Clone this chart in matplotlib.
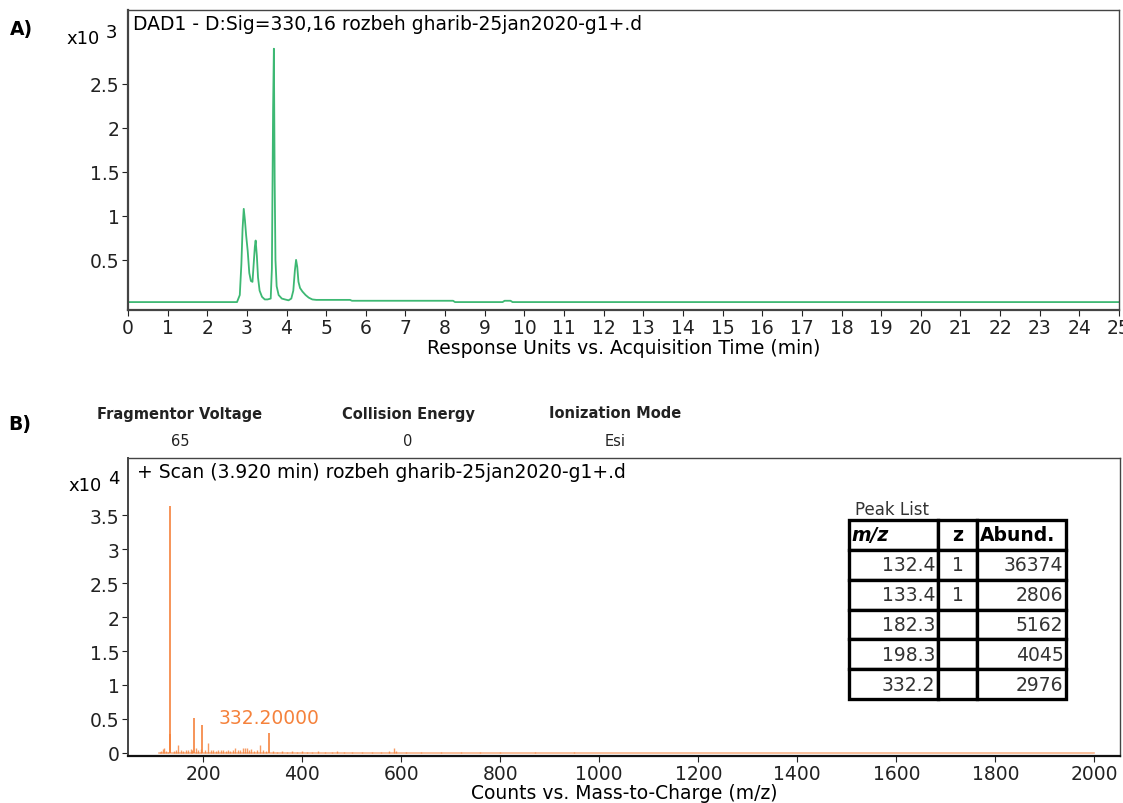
import matplotlib
matplotlib.use("Agg")
import matplotlib.pyplot as plt

plt.rcParams['font.family'] = ['DejaVu Sans']

# ---------------- Panel A data (chromatogram, x10^3) ----------------
time_min = [0.0, 2.75, 2.82, 2.86, 2.89, 2.92, 2.95, 2.98, 3.02, 3.06, 3.1, 3.14,
            3.17, 3.2, 3.22, 3.25, 3.28, 3.32, 3.38, 3.45, 3.52, 3.6, 3.63,
            3.66, 3.68, 3.7, 3.72, 3.75, 3.8, 3.88, 3.96, 4.05, 4.12, 4.17,
            4.21, 4.24, 4.27, 4.3, 4.34, 4.4, 4.48, 4.56, 4.65, 4.75, 5.6,
            5.65, 8.2, 8.25, 9.45, 9.5, 9.65, 9.7, 25.0]
response = [0.02, 0.02, 0.1, 0.45, 0.85, 1.08, 0.95, 0.78, 0.6, 0.35, 0.26, 0.25,
            0.45, 0.65, 0.72, 0.55, 0.3, 0.15, 0.08, 0.05, 0.05, 0.06, 0.4,
            2.2, 2.9, 1.4, 0.5, 0.2, 0.1, 0.06, 0.05, 0.04, 0.06, 0.15,
            0.38, 0.5, 0.42, 0.25, 0.18, 0.14, 0.1, 0.07, 0.05, 0.045, 0.045,
            0.035, 0.035, 0.02, 0.02, 0.035, 0.035, 0.02, 0.02]
a_xticks = list(range(0, 26))
a_yticks = [0.5, 1, 1.5, 2, 2.5]

# ---------------- Panel B data (mass spectrum, x10^4) ----------------
major_mz = [132.4, 133.4, 182.3, 198.3, 332.2]
major_abund = [36374, 2806, 5162, 4045, 2976]
major_z = ['1', '1', '', '', '']
minor_mz = [112, 115, 118, 121, 125, 128, 140, 145, 150, 155, 160, 165, 170, 175,
            178, 186, 190, 195, 203, 210, 215, 220, 225, 230, 235, 240, 245, 250,
            255, 260, 265, 270, 275, 280, 284, 288, 292, 297, 302, 308, 315, 320,
            326, 340, 350, 360, 370, 380, 390, 400, 410, 420, 432, 445, 460, 470,
            485, 500, 520, 540, 560, 575, 585, 590, 610, 640, 680, 720, 760, 800,
            870, 950]
minor_int = [0.02, 0.03, 0.06, 0.07, 0.03, 0.02, 0.03, 0.04, 0.12, 0.05, 0.03, 0.05,
             0.04, 0.06, 0.05, 0.07, 0.05, 0.06, 0.04, 0.15, 0.05, 0.04, 0.03, 0.05,
             0.04, 0.05, 0.03, 0.04, 0.03, 0.05, 0.07, 0.05, 0.04, 0.07, 0.08, 0.07,
             0.05, 0.06, 0.03, 0.04, 0.11, 0.04, 0.03, 0.03, 0.02, 0.03, 0.02, 0.03,
             0.02, 0.03, 0.02, 0.02, 0.03, 0.02, 0.02, 0.03, 0.02, 0.02, 0.02, 0.02,
             0.02, 0.03, 0.08, 0.03, 0.02, 0.02, 0.015, 0.015, 0.015, 0.015, 0.01, 0.01]
b_xticks = list(range(200, 2001, 200))
b_yticks = [0, 0.5, 1, 1.5, 2, 2.5, 3, 3.5]
header_names = ['Fragmentor Voltage', 'Collision Energy', 'Ionization Mode']
header_values = ['65', '0', 'Esi']
annot_label = '332.20000'

W, H = 1123, 804
fig = plt.figure(figsize=(W / 100, H / 100), dpi=100)

def fx(px):
    return px / W

def fy(py):
    return 1 - py / H

spine_col = '#444444'
green = '#3db873'
orange = '#f5823c'
FS = 13.5

# ---------------- Panel A ----------------
A_top, A_bot = 11, 311
axA = fig.add_axes([fx(128), fy(A_bot), fx(1119) - fx(128), fy(A_top) - fy(A_bot)])
axA.plot(time_min, response, color=green, lw=1.3)
axA.set_xlim(0, 25)
axA.set_ylim(-0.07, 3.34)
axA.set_xticks(a_xticks)
axA.set_xticklabels([str(t) for t in a_xticks])
axA.set_yticks(a_yticks)
axA.set_yticklabels(['%g' % v for v in a_yticks])
axA.tick_params(direction='out', length=4, labelsize=FS, colors='#222222', pad=2)
for s in axA.spines.values():
    s.set_color(spine_col)
    s.set_linewidth(1.0)
axA.spines['bottom'].set_linewidth(1.6)
axA.spines['left'].set_linewidth(1.6)
axA.set_xlabel('Response Units vs. Acquisition Time (min)', fontsize=FS, va='top')
axA.xaxis.set_label_coords(0.5, -(339 - A_bot) / (A_bot - A_top))
axA.text(0.005, 0.985, 'DAD1 - D:Sig=330,16 rozbeh gharib-25jan2020-g1+.d',
         transform=axA.transAxes, ha='left', va='top', fontsize=FS)
fig.text(fx(66), fy(39), 'x10', ha='left', va='center', fontsize=13)
fig.text(fx(106), fy(33), '3', ha='left', va='center', fontsize=13)
fig.text(fx(10), fy(30), 'A)', ha='left', va='center', fontsize=13.5, fontweight='bold')

# ---------------- Panel B ----------------
B_top, B_bot = 459, 757
axB = fig.add_axes([fx(128), fy(B_bot), fx(1120) - fx(128), fy(B_top) - fy(B_bot)])
axB.plot([110, 2000], [0, 0], color=orange, lw=1.2, alpha=0.6)
major_int = [a / 1e4 for a in major_abund]
axB.vlines(minor_mz, 0, minor_int, color=orange, lw=1.0, alpha=0.8)
axB.vlines(major_mz, 0, major_int, color=orange, lw=1.2)
axB.text(major_mz[-1], 0.38, annot_label, color=orange, fontsize=FS,
         ha='center', va='bottom')
axB.set_xlim(48, 2052)
axB.set_ylim(-0.045, 4.34)
axB.set_xticks(b_xticks)
axB.set_xticklabels([str(t) for t in b_xticks])
axB.set_yticks(b_yticks)
axB.set_yticklabels(['%g' % v for v in b_yticks])
axB.tick_params(direction='out', length=4, labelsize=FS, colors='#222222', pad=2)
for s in axB.spines.values():
    s.set_color(spine_col)
    s.set_linewidth(1.0)
axB.spines['bottom'].set_linewidth(1.6)
axB.spines['bottom'].set_color('#111111')
axB.spines['left'].set_linewidth(1.4)
axB.set_xlabel('Counts vs. Mass-to-Charge (m/z)', fontsize=FS, va='top')
axB.xaxis.set_label_coords(0.5, -(784 - B_bot) / (B_bot - B_top))
axB.text(0.009, 0.985, '+ Scan (3.920 min) rozbeh gharib-25jan2020-g1+.d',
         transform=axB.transAxes, ha='left', va='top', fontsize=FS)
fig.text(fx(68), fy(486), 'x10', ha='left', va='center', fontsize=13)
fig.text(fx(108), fy(479), '4', ha='left', va='center', fontsize=13)
fig.text(fx(8), fy(425), 'B)', ha='left', va='center', fontsize=13.5, fontweight='bold')

# header
for cx, name, val in zip([180, 408, 615], header_names, header_values):
    fig.text(fx(cx), fy(414), name, ha='center', va='center', fontsize=10.5,
             fontweight='bold', color='#222222')
    fig.text(fx(cx), fy(442), val, ha='center', va='center', fontsize=10.5,
             color='#222222')

# peak list table
fig.text(fx(855), fy(510), 'Peak List', ha='left', va='center', fontsize=12,
         color='#333333')
cell_text = [['%.1f' % m, z, str(a)] for m, z, a in zip(major_mz, major_z, major_abund)]
col_labels = ['m/z', 'z', 'Abund.']
tab = axB.table(cellText=cell_text, colLabels=col_labels,
                colWidths=[89, 39, 89],
                bbox=[(849 - 128) / 992, (B_bot - 700) / 298, 217 / 992, 179 / 298])
tab.auto_set_font_size(False)
for (r, c), cell in tab.get_celld().items():
    cell.set_edgecolor('black')
    cell.set_linewidth(2.4)
    t = cell.get_text()
    t.set_fontsize(13.5)
    t.set_color('#333333')
    cell.PAD = 0.03
    if r == 0:
        t.set_fontweight('bold')
        t.set_color('black')
        if c == 0:
            t.set_fontstyle('italic')
            cell._loc = 'left'
            t.set_ha('left')
        elif c == 1:
            cell._loc = 'center'
            t.set_ha('center')
        else:
            cell._loc = 'left'
            t.set_ha('left')
    else:
        if c == 1:
            cell._loc = 'center'
            t.set_ha('center')
        else:
            cell._loc = 'right'
            t.set_ha('right')

fig.savefig('out.png', dpi=100)
